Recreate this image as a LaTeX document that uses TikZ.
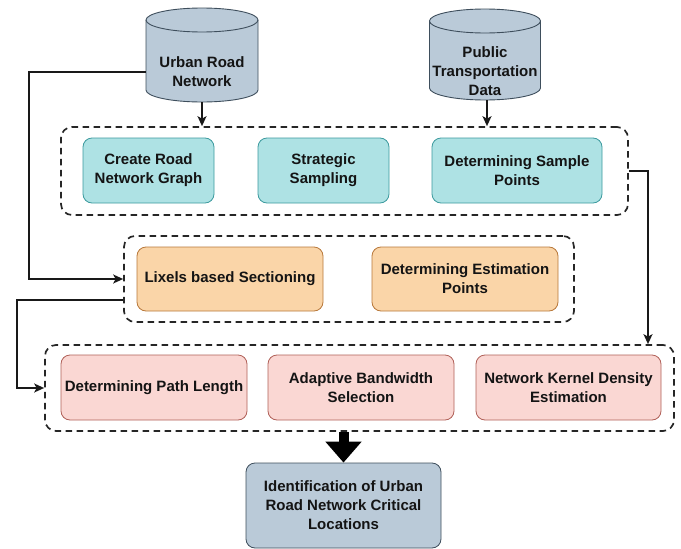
\documentclass[tikz,border=0pt]{standalone}
\usepackage{fontspec}
\setmainfont{Liberation Sans}
\usetikzlibrary{arrows.meta,calc}
\definecolor{cylfill}{HTML}{BACAD8}
\definecolor{cyldraw}{HTML}{3E4E5C}
\definecolor{tealfill}{HTML}{AEE2E4}
\definecolor{tealdraw}{HTML}{3C9A9E}
\definecolor{orfill}{HTML}{FAD5A8}
\definecolor{ordraw}{HTML}{B8783A}
\definecolor{pkfill}{HTML}{FAD7D3}
\definecolor{pkdraw}{HTML}{B06058}
\definecolor{grpc}{HTML}{262626}
\definecolor{txt}{HTML}{141414}
\begin{document}
\begin{tikzpicture}[x=1pt,y=-1pt,
  lbl/.style={font=\fontsize{15}{19}\selectfont\bfseries, align=center, text=txt},
  stepbox/.style={lbl, draw, rounded corners=9pt, line width=0.8pt, inner sep=0pt},
  teal/.style={stepbox, fill=tealfill, draw=tealdraw},
  orange/.style={stepbox, fill=orfill, draw=ordraw},
  pink/.style={stepbox, fill=pkfill, draw=pkdraw},
  final/.style={stepbox, fill=cylfill, draw=cyldraw},
  group/.style={draw=grpc, line width=1.7pt, dash pattern=on 6.5pt off 4.5pt, rounded corners=11pt, inner sep=0pt},
  conn/.style={draw=black!90, line width=1.5pt, -{Stealth[length=10pt,width=9pt,inset=2.5pt]}},
  cyl/.style={fill=cylfill, draw=cyldraw, line width=0.9pt}
]
\useasboundingbox (0,0) rectangle (681,549);

% cylinders
\filldraw[cyl] (146,20) -- (146,90) arc[start angle=180, end angle=360, x radius=56pt, y radius=12pt]
  -- (258,20) arc[start angle=0, end angle=180, x radius=56pt, y radius=12pt] -- cycle;
\draw[cyl, fill=none] (146,20) arc[start angle=180, end angle=360, x radius=56pt, y radius=12pt];
\node[minimum width=112pt, minimum height=94pt, inner sep=0pt] (cyl1) at (202,55) {};
\node[lbl] (cyl1t) at (202,72) {Urban Road\\Network};

\filldraw[cyl] (429.5,21) -- (429.5,88) arc[start angle=180, end angle=360, x radius=55.5pt, y radius=12pt]
  -- (540.5,21) arc[start angle=0, end angle=180, x radius=55.5pt, y radius=12pt] -- cycle;
\draw[cyl, fill=none] (429.5,21) arc[start angle=180, end angle=360, x radius=55.5pt, y radius=12pt];
\node[minimum width=111pt, minimum height=91pt, inner sep=0pt] (cyl2) at (487,54.5) {};
\node[lbl] (cyl2t) at (485,71) {Public\\Transportation\\Data};

% group 1
\node[group, minimum width=567pt, minimum height=88pt] (dash1) at (344.5,171) {};
\node[teal, minimum width=131pt, minimum height=65pt] (a) at (148.5,170.5) {Create Road\\Network Graph};
\node[teal, minimum width=131pt, minimum height=65pt] (b) at (323.5,170.5) {Strategic\\Sampling};
\node[teal, minimum width=170pt, minimum height=65pt] (c) at (517,170.5) {Determining Sample\\Points};

% group 2
\node[group, minimum width=450pt, minimum height=86pt] (dash2) at (349,279) {};
\node[orange, minimum width=186pt, minimum height=64pt] (d) at (230,279) {Lixels based Sectioning};
\node[orange, minimum width=186pt, minimum height=64pt] (e) at (465,279) {Determining Estimation\\Points};

% group 3
\node[group, minimum width=629pt, minimum height=86pt] (dash3) at (359.5,388) {};
\node[pink, minimum width=186pt, minimum height=65pt] (f) at (154,387.5) {Determining Path Length};
\node[pink, minimum width=186pt, minimum height=65pt] (g) at (361,387.5) {Adaptive Bandwidth\\Selection};
\node[pink, minimum width=185pt, minimum height=65pt] (h) at (568.5,387.5) {Network Kernel Density\\Estimation};

% final
\node[final, minimum width=195pt, minimum height=85pt] (fin) at (343.5,505.5) {Identification of Urban\\Road Network Critical\\Locations};

% connectors
\draw[conn] (cyl1.south) -- (cyl1.south |- dash1.north);
\draw[conn] (cyl2.south) -- (cyl2.south |- dash1.north);

\coordinate (jog1) at (29,279);
\draw[conn] (cyl1.west |- cyl1t.center) -| (jog1) -- (dash2.west);

\coordinate (jog2) at (17,388);
\draw[conn] ($(dash2.west)+(0,21)$) -| (jog2) -- (dash3.west);

\coordinate (jog3) at (648,171);
\draw[conn] (dash1.east) -- (jog3) -- (jog3 |- dash3.north);

\draw[line width=10pt, draw=black, -{Triangle[length=21pt,width=35pt]}] (fin.north |- dash3.south) -- (fin.north);
\end{tikzpicture}
\end{document}
